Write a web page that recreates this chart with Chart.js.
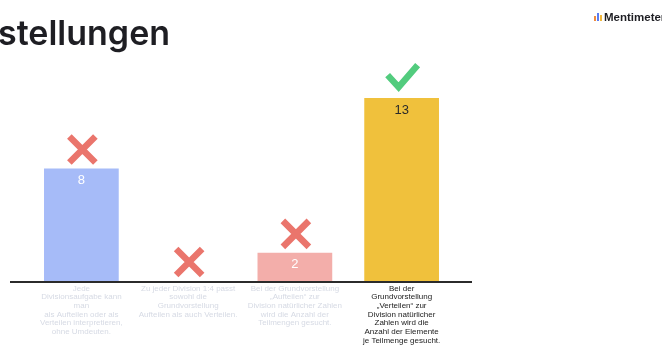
<!DOCTYPE html>
<html>
<head>
<meta charset="utf-8">
<script src="https://cdn.jsdelivr.net/npm/chart.js@4"></script>
<style>
  html, body { margin: 0; padding: 0; background: #ffffff; }
  #wrap { width: 662px; height: 345px; position: relative; overflow: hidden; }
</style>
</head>
<body>
<div id="wrap"><canvas id="c" width="662" height="345"></canvas></div>
<script>
// Answer options (multi-line axis labels)
const categories = [
  ["Jede", "Divisionsaufgabe kann", "man", "als Aufteilen oder als", "Verteilen interpretieren,", "ohne Umdeuten."],
  ["Zu jeder Division 1:4 passt", "sowohl die", "Grundvorstellung", "Aufteilen als auch Verteilen."],
  ["Bei der Grundvorstellung", "„Aufteilen“ zur", "Division natürlicher Zahlen", "wird die Anzahl der", "Teilmengen gesucht."],
  ["Bei der", "Grundvorstellung", "„Verteilen“ zur", "Division natürlicher", "Zahlen wird die", "Anzahl der Elemente", "je Teilmenge gesucht."]
];
// Number of votes per option
const votes = [8, 0, 2, 13];
// Whether the option is the correct statement
const correct = [false, false, false, true];
const yTicks = [0, 14];

const barColors = ['#a6bbf8', '#a6bbf8', '#f3aeaa', '#f0c13c'];
const labelColors = ['#ffffff', '#ffffff', '#ffffff', '#2a2a2a'];

const decorations = {
  id: 'decorations',
  afterDatasetsDraw(chart) {
    const ctx = chart.ctx;
    const meta = chart.getDatasetMeta(0);
    ctx.save();
    meta.data.forEach((bar, i) => {
      // value label inside the top of the bar
      if (votes[i] > 0) {
        ctx.fillStyle = labelColors[i];
        ctx.font = '13px "Liberation Sans", Arial, sans-serif';
        ctx.textAlign = 'center';
        ctx.textBaseline = 'middle';
        ctx.fillText(String(votes[i]), bar.x, bar.y + 12);
      }
      // marker above the bar
      const cx = bar.x + 1, cy = bar.y - (correct[i] ? 20 : 19);
      ctx.lineWidth = 6.5;
      ctx.lineCap = 'butt';
      ctx.lineJoin = 'miter';
      if (correct[i]) {
        ctx.strokeStyle = '#52cc7e';
        ctx.beginPath();
        ctx.moveTo(cx - 15, cy - 3);
        ctx.lineTo(cx - 4, cy + 9);
        ctx.lineTo(cx + 15, cy - 13);
        ctx.stroke();
      } else {
        ctx.strokeStyle = '#ea756c';
        const h = 13;
        ctx.beginPath();
        ctx.moveTo(cx - h, cy - h); ctx.lineTo(cx + h, cy + h);
        ctx.moveTo(cx + h, cy - h); ctx.lineTo(cx - h, cy + h);
        ctx.stroke();
      }
    });
    // baseline
    const y = chart.scales.y.getPixelForValue(0);
    ctx.strokeStyle = '#2b2b2b';
    ctx.lineWidth = 2;
    ctx.beginPath();
    ctx.moveTo(10, y + 1);
    ctx.lineTo(472, y + 1);
    ctx.stroke();

    // heading
    ctx.fillStyle = '#1e1e23';
    ctx.font = '600 34px Inter, "Open Sans", sans-serif';
    ctx.textAlign = 'left';
    ctx.textBaseline = 'alphabetic';
    ctx.fillText('stellungen', -2, 45);

    // brand mark
    ctx.fillStyle = '#f08a3c';
    ctx.fillRect(594, 16, 2, 5);
    ctx.fillStyle = '#5b7cf0';
    ctx.fillRect(597, 13, 2, 8);
    ctx.fillStyle = '#f0b73c';
    ctx.fillRect(600, 15, 2, 6);
    ctx.fillStyle = '#1e1e23';
    ctx.font = 'bold 11.5px "Liberation Sans", Arial, sans-serif';
    ctx.textBaseline = 'alphabetic';
    ctx.fillText('Mentimeter', 604, 21);
    ctx.restore();
  }
};

new Chart(document.getElementById('c'), {
  type: 'bar',
  data: {
    labels: categories,
    datasets: [{
      data: votes,
      backgroundColor: barColors,
      borderWidth: 0,
      barPercentage: 0.7,
      categoryPercentage: 1.0
    }]
  },
  options: {
    responsive: false,
    animation: false,
    events: [],
    layout: { padding: { left: 28, right: 207, top: 84, bottom: 0 } },
    plugins: { legend: { display: false }, tooltip: { enabled: false } },
    scales: {
      x: {
        grid: { display: false, drawTicks: false },
        border: { display: false },
        ticks: {
          padding: 3,
          maxRotation: 0,
          autoSkip: false,
          color: (c) => c.index === 3 ? '#222222' : '#d6dae4',
          font: { size: 8, family: '"Liberation Sans", Arial, sans-serif', lineHeight: 1.09 }
        },
        afterFit: (scale) => { scale.height = 64; }
      },
      y: {
        display: false,
        min: yTicks[0],
        max: yTicks[1]
      }
    }
  },
  plugins: [decorations]
});
</script>
</body>
</html>
